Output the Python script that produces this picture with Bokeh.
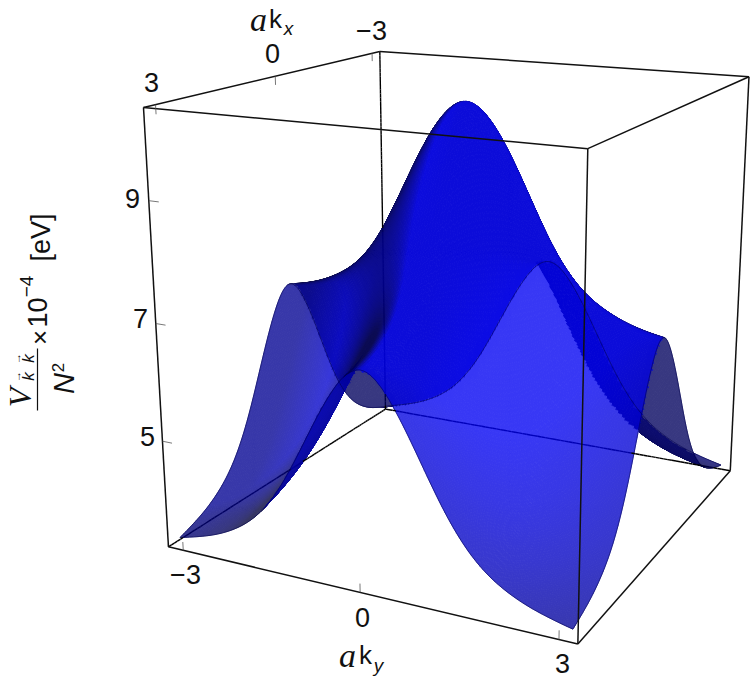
import numpy as np
from bokeh.plotting import figure
from bokeh.models import Range1d
from bokeh.core.properties import value
from bokeh.embed import file_html
from bokeh.resources import INLINE

# ---- data -----------------------------------------------------------
# height of the surface along a wall (k from 0 to pi, k_other = pi)
wall_height = [6.78, 6.74, 6.61, 6.42, 6.20, 5.95, 5.68, 5.40, 5.12, 4.85, 4.60, 4.38, 4.19,
               4.02, 3.89, 3.77, 3.68, 3.60, 3.53, 3.47, 3.42, 3.38, 3.34, 3.30, 3.27]
# height of the surface along the central ridge (k from 0 to pi, k_other = 0)
ridge_height = [10.36, 10.30, 10.18, 10.01, 9.79, 9.53, 9.24, 8.94, 8.65, 8.37, 8.10, 7.87, 7.67,
                7.50, 7.35, 7.23, 7.13, 7.05, 6.98, 6.91, 6.86, 6.82, 6.79, 6.77, 6.76]
kx_ticks = [-3, 0, 3]
ky_ticks = [-3, 0, 3]
z_ticks = [5, 7, 9]
tick_text = {-3: "\u22123", 0: "0", 3: "3", 5: "5", 7: "7", 9: "9"}

# ---- view box ---------------------------------------------------------
B, ZLO, ZHI = 3.267, 3.13, 10.46
box3d = np.array([[B, -B, ZLO], [B, -B, ZHI], [B, B, ZLO], [B, B, ZHI],
                  [-B, -B, ZLO], [-B, -B, ZHI], [-B, B, ZLO], [-B, B, ZHI]])
box2d = np.array([[168, 546.7], [142.7, 107.3], [577, 643], [588, 148],
                  [385, 408], [379.5, 51], [730, 471], [748, 76]])
A = []
for (X, Y, Z), (u, v) in zip(box3d, box2d):
    A.append([X, Y, Z, 1, 0, 0, 0, 0, -u*X, -u*Y, -u*Z, -u])
    A.append([0, 0, 0, 0, X, Y, Z, 1, -v*X, -v*Y, -v*Z, -v])
P = np.linalg.svd(np.array(A))[2][-1].reshape(3, 4)
cam = np.linalg.svd(P)[2][-1]
cam = cam[:3] / cam[3]


def project(pts):
    pts = np.asarray(pts, float)
    h = np.c_[pts, np.ones(len(pts))] @ P.T
    return h[:, 0] / h[:, 2], h[:, 1] / h[:, 2]


SUB = 3
SMOOTH = 3.6


def fine_curve(vals):
    """smooth drawing path through the read values (mirrored about k = 0)"""
    v = np.r_[vals[:0:-1], vals]
    e = np.r_[2*v[0]-v[1], v, 2*v[-1]-v[-2]]
    out = []
    for i in range(1, len(e)-2):
        for s in np.arange(SUB)/SUB:
            out.append(0.5*((2*e[i]) + (-e[i-1]+e[i+1])*s + (2*e[i-1]-5*e[i]+4*e[i+1]-e[i+2])*s*s
                            + (-e[i-1]+3*e[i]-3*e[i+1]+e[i+2])*s**3))
    out.append(v[-1])
    out = np.array(out)
    R = int(4*SMOOTH)
    pad = np.r_[2*out[0]-out[R:0:-1], out, 2*out[-1]-out[-2:-R-2:-1]]
    ker = np.exp(-0.5*(np.arange(-R, R+1)/SMOOTH)**2)
    ker /= ker.sum()
    return np.convolve(pad, ker, mode="valid")


# ---- surface ----------------------------------------------------------
w2 = fine_curve(np.array(wall_height))
r2 = fine_curve(np.array(ridge_height))
k = np.linspace(-np.pi, np.pi, len(w2))
dk = k[1] - k[0]
n = len(k)
t_ = (w2 - w2[0]) / (w2.max() - w2[0])
Zg = np.outer(r2 - w2, t_) + w2[:, None]      # [kx index, ky index]
Zg = 0.5 * (Zg + Zg.T)
dzx, dzy = np.gradient(Zg, k, k)
OP = 0.78
LIGHT = np.array([0.70, 0.55, 0.25])
LIGHT = LIGHT / np.linalg.norm(LIGHT)
UNDER = np.array([-0.7, 0.7, 0.0])


def bilin(G, x, y):
    fx = np.clip((x + np.pi) / dk, 0, n - 1.000001)
    fy = np.clip((y + np.pi) / dk, 0, n - 1.000001)
    i = fx.astype(int)
    j = fy.astype(int)
    s = fx - i
    q = fy - j
    return G[i, j]*(1-s)*(1-q) + G[i+1, j]*s*(1-q) + G[i, j+1]*(1-s)*q + G[i+1, j+1]*s*q


def shade(x, y, from_top):
    gx = bilin(dzx, np.array([x]), np.array([y]))[0]
    gy = bilin(dzy, np.array([x]), np.array([y]))[0]
    nr = np.array([-gx, -gy, 1.0])
    nr = nr / np.linalg.norm(nr)
    if from_top:
        fade = 1 - 0.38*np.clip((x + y - 3.0)/3.28, 0, 1)
        fade *= 1 - 0.40*np.clip((-y - 1.2)/1.4, 0, 1)
        fade *= 1 - 0.35*np.clip((-x - 0.3)/1.5, 0, 1)
        return 255*fade*np.clip(0.28 + 1.6*max(nr @ LIGHT, 0), 0, 0.95)
    return 255*np.clip(0.36 + 0.45*max(-(nr @ UNDER), 0), 0, 1)


D0 = np.linalg.norm(cam - np.array([0, 0, 6.5]))
ts = np.linspace(D0 - 7.5, D0 + 7.5, 500)


def ray_colours(cent):
    """colour of every facet centre: all the sheets on its ray, composited back to front"""
    dirs = cent - cam
    own = np.linalg.norm(dirs, axis=1)
    dirs = dirs / own[:, None]
    cr_ray, cr_t, cr_top = [], [], []
    for st in range(0, len(cent), 1500):
        d = dirs[st:st+1500]
        X = cam[0] + d[:, 0, None]*ts
        Y = cam[1] + d[:, 1, None]*ts
        Z = cam[2] + d[:, 2, None]*ts
        inside = (np.abs(X) <= np.pi) & (np.abs(Y) <= np.pi)
        f = Z - bilin(Zg, X.ravel(), Y.ravel()).reshape(X.shape)
        hit = inside[:, :-1] & inside[:, 1:] & (f[:, :-1]*f[:, 1:] < 0)
        ri, si = np.nonzero(hit)
        fa, fb = f[ri, si], f[ri, si+1]
        cr_ray.append(ri+st)
        cr_t.append(ts[si] + (ts[si+1]-ts[si])*fa/(fa-fb))
        cr_top.append(fa > 0)
    cr_ray, cr_t, cr_top = map(np.concatenate, (cr_ray, cr_t, cr_top))
    srt = np.lexsort((cr_t, cr_ray))
    cr_ray, cr_t, cr_top = cr_ray[srt], cr_t[srt], cr_top[srt]
    starts = np.searchsorted(cr_ray, np.arange(len(cent)))
    ends = np.searchsorted(cr_ray, np.arange(len(cent)), side="right")
    colr = np.zeros((len(cent), 3))
    hidden = np.zeros(len(cent), bool)
    for q in range(len(cent)):
        tt = list(cr_t[starts[q]:ends[q]])
        tp = list(cr_top[starts[q]:ends[q]])
        if not tt or np.min(np.abs(np.array(tt) - own[q])) > 0.12:
            gx = bilin(dzx, cent[q, :1], cent[q, 1:2])[0]
            gy = bilin(dzy, cent[q, :1], cent[q, 1:2])[0]
            tt.append(own[q])
            tp.append((np.array([-gx, -gy, 1.0]) @ (cam - cent[q])) > 0)
            o = np.argsort(tt)
            tt = [tt[i] for i in o]
            tp = [tp[i] for i in o]
        hidden[q] = own[q] - tt[0] > 0.15
        c = np.array([255.0, 255.0, 255.0])
        for tv, top in zip(reversed(tt), reversed(tp)):
            pos = cam + dirs[q]*tv
            c = OP*np.array([0, 0, shade(pos[0], pos[1], top)]) + (1-OP)*c
        colr[q] = c
    return colr, hidden, own


m_f = n - 1
FX, FY = np.meshgrid(k, k, indexing="ij")
FZ = Zg
cx = 0.25*(FX[:-1, :-1]+FX[1:, :-1]+FX[:-1, 1:]+FX[1:, 1:])
cy = 0.25*(FY[:-1, :-1]+FY[1:, :-1]+FY[:-1, 1:]+FY[1:, 1:])
cz = 0.25*(FZ[:-1, :-1]+FZ[1:, :-1]+FZ[:-1, 1:]+FZ[1:, 1:])
colr, hidden, own = ray_colours(np.c_[cx.ravel(), cy.ravel(), cz.ravel()])

# keep a facet if it or a close neighbour is on top
hg = hidden.reshape(m_f, m_f)
keep_g = ~hg
for _ in range(2):
    kk = keep_g.copy()
    kk[1:, :] |= keep_g[:-1, :]
    kk[:-1, :] |= keep_g[1:, :]
    kk[:, 1:] |= keep_g[:, :-1]
    kk[:, :-1] |= keep_g[:, 1:]
    keep_g = kk

# facets on which the number of sheets changes are cut finer, so that the edge stays clean
cg = colr.reshape(m_f, m_f, 3)
rg = cg[:, :, 0]
edge_g = np.zeros((m_f, m_f), bool)
for di, dj in ((1, 0), (0, 1), (1, 1), (1, -1)):
    a_i = np.arange(max(0, -di), m_f - max(0, di))
    a_j = np.arange(max(0, -dj), m_f - max(0, dj))
    ii, jj = np.meshgrid(a_i, a_j, indexing="ij")
    diff = np.abs(rg[ii, jj] - rg[ii+di, jj+dj]) > 14
    edge_g[ii[diff], jj[diff]] = True
    edge_g[ii[diff]+di, jj[diff]+dj] = True
edge_g &= ~hg

U, V = project(np.c_[FX.ravel(), FY.ravel(), FZ.ravel()])
U = U.reshape(FX.shape)
V = V.reshape(FX.shape)

polys = []     # (distance, xs, ys, colour)
sub_pts = []
for i in range(m_f):
    for j in range(m_f):
        if not keep_g[i, j]:
            continue
        q = i*m_f + j
        if not edge_g[i, j]:
            polys.append((own[q], [U[i, j], U[i+1, j], U[i+1, j+1], U[i, j+1]],
                          [V[i, j], V[i+1, j], V[i+1, j+1], V[i, j+1]], colr[q]))
            continue
        li = np.hypot(U[i+1, j]-U[i, j], V[i+1, j]-V[i, j])
        lj = np.hypot(U[i, j+1]-U[i, j], V[i, j+1]-V[i, j])
        ni = int(np.clip(np.ceil(li/2.2), 1, 5))
        nj = int(np.clip(np.ceil(lj/2.2), 1, 5))
        si = np.linspace(k[i], k[i+1], ni+1)
        sj = np.linspace(k[j], k[j+1], nj+1)
        for a in range(ni):
            for b in range(nj):
                sub_pts.append((si[a], si[a+1], sj[b], sj[b+1]))
sub_pts = np.array(sub_pts)
if len(sub_pts):
    x0, x1, y0, y1 = sub_pts.T
    cc = np.c_[0.5*(x0+x1), 0.5*(y0+y1), bilin(Zg, 0.5*(x0+x1), 0.5*(y0+y1))]
    col2, _, own2 = ray_colours(cc)
    xs4 = np.c_[x0, x1, x1, x0]
    ys4 = np.c_[y0, y0, y1, y1]
    zs4 = bilin(Zg, xs4.ravel(), ys4.ravel())
    su, sv = project(np.c_[xs4.ravel(), ys4.ravel(), zs4])
    su = su.reshape(-1, 4)
    sv = sv.reshape(-1, 4)
    for q in range(len(sub_pts)):
        polys.append((own2[q], su[q].tolist(), sv[q].tolist(), col2[q]))
polys.sort(key=lambda e: -e[0])
xs_out = [e[1] for e in polys]
ys_out = [e[2] for e in polys]
cols = ["#%02x%02x%02x" % tuple(int(round(v)) for v in e[3]) for e in polys]

p = figure(width=750, height=681, x_range=Range1d(0, 750), y_range=Range1d(681, 0),
           output_backend="svg", toolbar_location=None, min_border=0,
           x_axis_location=None, y_axis_location=None, outline_line_color=None)
p.grid.visible = False
p.background_fill_color = "white"

p.patches(xs_out, ys_out, fill_color=cols, line_color=cols, line_width=0.9)

# rim of the sheet
rims = [(np.full(n, n-1), np.arange(n)), (np.arange(n), np.full(n, n-1)),
        (np.zeros(n, int), np.arange(n)), (np.arange(n), np.zeros(n, int))]
for ia, ib in rims:
    u, v = project(np.c_[k[ia], k[ib], Zg[ia, ib]])
    p.line(u, v, line_color="#00004a", line_width=0.9, line_alpha=0.6)


def edge(a, b):
    return project([a, b])


def behind_colour(x3):
    """colour of a black edge at point x3 seen through the sheet in front of it"""
    d = x3 - cam
    L = np.linalg.norm(d)
    d = d / L
    tt = np.linspace(1.0, L, 500)
    X, Y, Z = [cam[a] + d[a]*tt for a in range(3)]
    ins = (np.abs(X) <= np.pi) & (np.abs(Y) <= np.pi)
    f = Z - bilin(Zg, X, Y)
    ids = np.nonzero(ins[:-1] & ins[1:] & (f[:-1]*f[1:] < 0))[0]
    c = np.zeros(3)
    for i in ids[::-1]:
        c = OP*np.array([0, 0, shade(X[i], Y[i], f[i] > 0)]) + (1-OP)*c
    return "#%02x%02x%02x" % tuple(int(round(v)) for v in c)


back_edges = [((-B, -B, ZLO), (-B, -B, ZHI)), ((-B, -B, ZLO), (B, -B, ZLO)), ((-B, -B, ZLO), (-B, B, ZLO))]
seg_x, seg_y, seg_c = [], [], []
for a, b in back_edges:
    a, b = np.array(a), np.array(b)
    m = 90
    for s in range(m):
        p0, p1 = a + (b-a)*s/m, a + (b-a)*(s+1)/m
        u, v = project([p0, p1])
        seg_x.append(list(u))
        seg_y.append(list(v))
        seg_c.append(behind_colour(0.5*(p0+p1)))
p.multi_line(seg_x, seg_y, line_color=seg_c, line_width=1.4)

# box edges in front of the sheet
front = [((B, -B, ZLO), (B, -B, ZHI)), ((B, B, ZLO), (B, B, ZHI)), ((-B, B, ZLO), (-B, B, ZHI)),
         ((B, -B, ZLO), (B, B, ZLO)), ((B, B, ZLO), (-B, B, ZLO)),
         ((B, -B, ZHI), (B, B, ZHI)), ((B, B, ZHI), (-B, B, ZHI)),
         ((-B, B, ZHI), (-B, -B, ZHI)), ((-B, -B, ZHI), (B, -B, ZHI))]
for a, b in front:
    u, v = edge(a, b)
    p.line(u, v, line_color="#111111", line_width=1.5)

# ticks
tick_col = "#555555"
for t in kx_ticks:
    u, v = edge((t, -B, ZHI), (t, -B, ZHI-0.15))
    p.line(u, v, line_color=tick_col, line_width=0.8)
for t in ky_ticks:
    u, v = edge((B, t, ZLO), (B, t, ZLO+0.15))
    p.line(u, v, line_color=tick_col, line_width=0.8)
for t in z_ticks:
    u, v = edge((B, -B, t), (B, -B+0.17, t))
    p.line(u, v, line_color=tick_col, line_width=0.8)

SANS = value("Liberation Sans")
SERIF = value("Liberation Serif")


def txt(x, y, s, size, font=SANS, style="normal", angle=0.0, color="#111111"):
    p.text([x], [y], text=[s], text_font=font, text_font_size=f"{size}px", text_font_style=style,
           text_align="center", text_baseline="middle", angle=angle, text_color=color)


# tick labels
txt(151, 82, tick_text[3], 27)
txt(272, 53, tick_text[0], 27)
txt(371, 30, tick_text[-3], 27)
txt(132, 198, tick_text[9], 27)
txt(140, 318, tick_text[7], 27)
txt(147, 436, tick_text[5], 27)
txt(185, 574, tick_text[-3], 27)
txt(362, 617, tick_text[0], 27)
txt(562, 663, tick_text[3], 27)
# axis names
txt(258, 19, "a", 34, SERIF, "italic")
txt(275, 18, "k", 26)
txt(288, 28, "x", 19, SANS, "italic")
txt(347, 655, "a", 34, SERIF, "italic")
txt(365, 654, "k", 26)
txt(378, 665, "y", 19, SANS, "italic")
# rotated z label
UP = np.pi/2
txt(40, 237, "[eV]", 27, angle=UP)
txt(37, 312, "10", 27, angle=UP)
txt(26, 286, "\u22124", 19, angle=UP)
txt(39, 337, "\u00d7", 26, angle=UP)
txt(63, 383, "N", 29, SANS, "italic", angle=UP)
txt(57, 367, "2", 17, angle=UP)
txt(19, 397, "V", 32, SERIF, "italic", angle=UP)
txt(28, 376, "k", 17, SANS, "italic", angle=UP)
txt(28, 358, "k", 17, SANS, "italic", angle=UP)
txt(16, 376, "\u2192", 11, angle=UP)
txt(16, 358, "\u2192", 11, angle=UP)
p.line([37, 37], [348, 410], line_color="#111111", line_width=1.2)

open("out.html", "w").write(file_html(p, INLINE))
